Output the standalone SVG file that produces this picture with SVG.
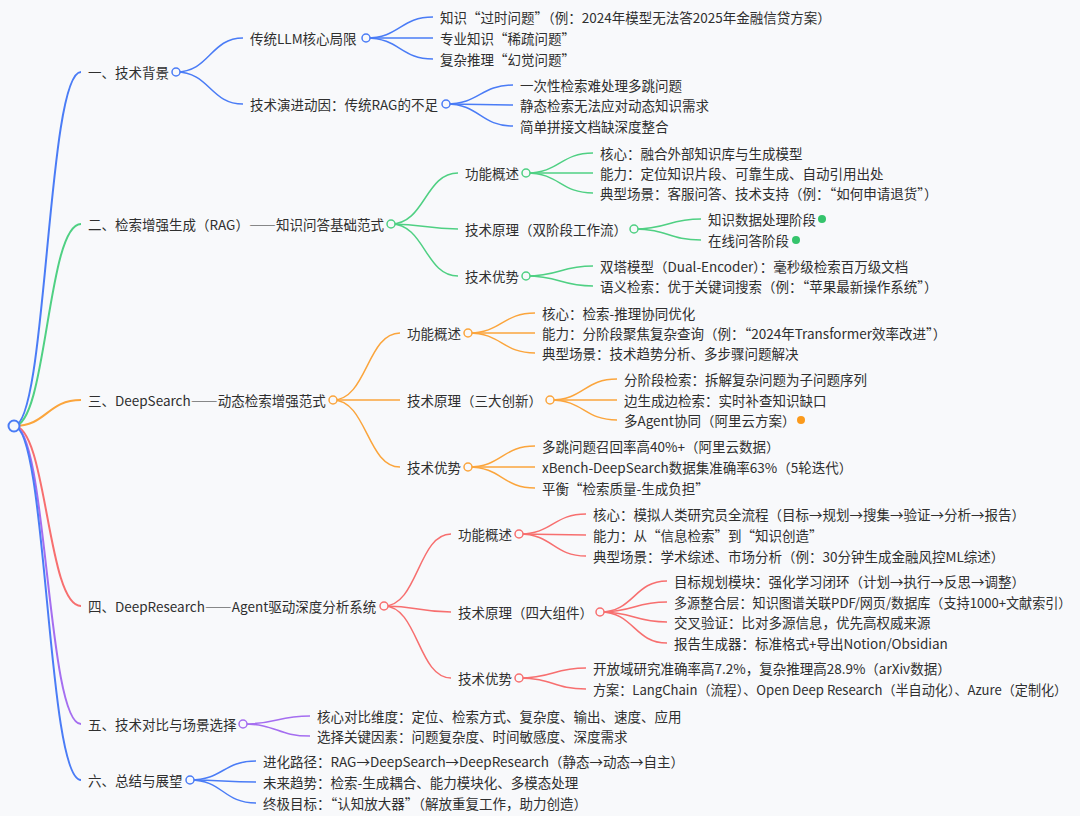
<svg xmlns="http://www.w3.org/2000/svg" width="1080" height="816" viewBox="0 0 1080 816" xml:lang="zh-CN" lang="zh-CN">
<style>
text{font-family:"Noto Sans CJK SC","Noto Sans",sans-serif;fill:#2f2f2f;dominant-baseline:central;font-size:13.5px}
text.tight{font-size:13.1px}
.lk{fill:none;stroke-width:1.5}
.root{stroke-width:2}
.b{stroke:#4a7cf6}.g{stroke:#4fd083}.o{stroke:#fba53c}.r{stroke:#f76f6f}.p{stroke:#a56ef0}
circle.c{fill:#f8f9fb;stroke-width:1.5}
.fg{fill:#35c46c}.fo{fill:#fb9a1c}
</style>
<rect width="1080" height="816" fill="#f8f9fb"/>
<g id="connectors">
<path class="lk root b" d="M14,426 C47,426 47,72 81,72"/>
<path class="lk root g" d="M14,426 C47,426 47,224 81,224"/>
<path class="lk root o" d="M14,426 C47,426 47,400 81,400"/>
<path class="lk root r" d="M14,426 C47,426 47,606 81,606"/>
<path class="lk root p" d="M14,426 C47,426 47,724 81,724"/>
<path class="lk root b" d="M14,426 C47,426 47,780 81,780"/>
<path class="lk b" d="M176,72 C210,72 210,38 243,38"/>
<path class="lk b" d="M176,72 C210,72 210,104 243,104"/>
<path class="lk b" d="M366,38 C400,38 400,17 433,17"/>
<path class="lk b" d="M366,38 C400,38 400,38 433,38"/>
<path class="lk b" d="M366,38 C400,38 400,59 433,59"/>
<path class="lk b" d="M446,104 C480,104 480,85 513,85"/>
<path class="lk b" d="M446,104 C480,104 480,105 513,105"/>
<path class="lk b" d="M446,104 C480,104 480,126 513,126"/>
<path class="lk g" d="M391,224 C425,224 425,173 458,173"/>
<path class="lk g" d="M391,224 C425,224 425,229 458,229"/>
<path class="lk g" d="M391,224 C425,224 425,276 458,276"/>
<path class="lk g" d="M526,173 C560,173 560,153 593,153"/>
<path class="lk g" d="M526,173 C560,173 560,173 593,173"/>
<path class="lk g" d="M526,173 C560,173 560,193 593,193"/>
<path class="lk g" d="M634,229 C668,229 668,219 701,219"/>
<path class="lk g" d="M634,229 C668,229 668,240 701,240"/>
<path class="lk g" d="M526,276 C560,276 560,266 593,266"/>
<path class="lk g" d="M526,276 C560,276 560,286 593,286"/>
<path class="lk o" d="M333,400 C367,400 367,333 400,333"/>
<path class="lk o" d="M333,400 C367,400 367,400 400,400"/>
<path class="lk o" d="M333,400 C367,400 367,467 400,467"/>
<path class="lk o" d="M468,333 C502,333 502,313 535,313"/>
<path class="lk o" d="M468,333 C502,333 502,333 535,333"/>
<path class="lk o" d="M468,333 C502,333 502,353 535,353"/>
<path class="lk o" d="M550,400 C584,400 584,379 617,379"/>
<path class="lk o" d="M550,400 C584,400 584,400 617,400"/>
<path class="lk o" d="M550,400 C584,400 584,420 617,420"/>
<path class="lk o" d="M468,467 C502,467 502,446 535,446"/>
<path class="lk o" d="M468,467 C502,467 502,467 535,467"/>
<path class="lk o" d="M468,467 C502,467 502,488 535,488"/>
<path class="lk r" d="M384,606 C418,606 418,534 451,534"/>
<path class="lk r" d="M384,606 C418,606 418,612 451,612"/>
<path class="lk r" d="M384,606 C418,606 418,678 451,678"/>
<path class="lk r" d="M519,534 C553,534 553,514 586,514"/>
<path class="lk r" d="M519,534 C553,534 553,535 586,535"/>
<path class="lk r" d="M519,534 C553,534 553,556 586,556"/>
<path class="lk r" d="M600,612 C634,612 634,581 667,581"/>
<path class="lk r" d="M600,612 C634,612 634,602 667,602"/>
<path class="lk r" d="M600,612 C634,612 634,622 667,622"/>
<path class="lk r" d="M600,612 C634,612 634,643 667,643"/>
<path class="lk r" d="M519,678 C553,678 553,668 586,668"/>
<path class="lk r" d="M519,678 C553,678 553,689 586,689"/>
<path class="lk p" d="M243,724 C277,724 277,716 310,716"/>
<path class="lk p" d="M243,724 C277,724 277,736 310,736"/>
<path class="lk b" d="M190,780 C223,780 223,761 256,761"/>
<path class="lk b" d="M190,780 C223,780 223,782 256,782"/>
<path class="lk b" d="M190,780 C223,780 223,803 256,803"/>
</g>
<g id="root"><circle class="c b" cx="14" cy="426" r="5.5" style="stroke-width:2"/></g>
<g id="n1"><text x="88" y="72">一、技术背景</text><circle class="c b" cx="176" cy="72" r="4"/></g>
<g id="n1-1"><text x="250" y="38">传统LLM核心局限</text><circle class="c b" cx="366" cy="38" r="4"/></g>
<g id="n1-1-1"><text x="440" y="17">知识“过时问题”（例：2024年模型无法答2025年金融信贷方案）</text></g>
<g id="n1-1-2"><text x="440" y="38">专业知识“稀疏问题”</text></g>
<g id="n1-1-3"><text x="440" y="59">复杂推理“幻觉问题”</text></g>
<g id="n1-2"><text x="250" y="104">技术演进动因：传统RAG的不足</text><circle class="c b" cx="446" cy="104" r="4"/></g>
<g id="n1-2-1"><text x="520" y="85">一次性检索难处理多跳问题</text></g>
<g id="n1-2-2"><text x="520" y="105">静态检索无法应对动态知识需求</text></g>
<g id="n1-2-3"><text x="520" y="126">简单拼接文档缺深度整合</text></g>
<g id="n2"><text x="88" y="224">二、检索增强生成（RAG）——知识问答基础范式</text><circle class="c g" cx="391" cy="224" r="4"/></g>
<g id="n2-1"><text x="465" y="173">功能概述</text><circle class="c g" cx="526" cy="173" r="4"/></g>
<g id="n2-1-1"><text x="600" y="153">核心：融合外部知识库与生成模型</text></g>
<g id="n2-1-2"><text x="600" y="173">能力：定位知识片段、可靠生成、自动引用出处</text></g>
<g id="n2-1-3"><text x="600" y="193">典型场景：客服问答、技术支持（例：“如何申请退货”）</text></g>
<g id="n2-2"><text x="465" y="229">技术原理（双阶段工作流）</text><circle class="c g" cx="634" cy="229" r="4"/></g>
<g id="n2-2-1"><text x="708" y="219">知识数据处理阶段</text><circle class="fg" cx="822" cy="219" r="4"/></g>
<g id="n2-2-2"><text x="708" y="240">在线问答阶段</text><circle class="fg" cx="796" cy="240" r="4"/></g>
<g id="n2-3"><text x="465" y="276">技术优势</text><circle class="c g" cx="526" cy="276" r="4"/></g>
<g id="n2-3-1"><text x="600" y="266">双塔模型（Dual-Encoder）：毫秒级检索百万级文档</text></g>
<g id="n2-3-2"><text x="600" y="286">语义检索：优于关键词搜索（例：“苹果最新操作系统”）</text></g>
<g id="n3"><text x="88" y="400">三、DeepSearch——动态检索增强范式</text><circle class="c o" cx="333" cy="400" r="4"/></g>
<g id="n3-1"><text x="407" y="333">功能概述</text><circle class="c o" cx="468" cy="333" r="4"/></g>
<g id="n3-1-1"><text x="542" y="313">核心：检索-推理协同优化</text></g>
<g id="n3-1-2"><text x="542" y="333">能力：分阶段聚焦复杂查询（例：“2024年Transformer效率改进”）</text></g>
<g id="n3-1-3"><text x="542" y="353">典型场景：技术趋势分析、多步骤问题解决</text></g>
<g id="n3-2"><text x="407" y="400">技术原理（三大创新）</text><circle class="c o" cx="550" cy="400" r="4"/></g>
<g id="n3-2-1"><text x="624" y="379">分阶段检索：拆解复杂问题为子问题序列</text></g>
<g id="n3-2-2"><text x="624" y="400">边生成边检索：实时补查知识缺口</text></g>
<g id="n3-2-3"><text x="624" y="420">多Agent协同（阿里云方案）</text><circle class="fo" cx="801" cy="420" r="4"/></g>
<g id="n3-3"><text x="407" y="467">技术优势</text><circle class="c o" cx="468" cy="467" r="4"/></g>
<g id="n3-3-1"><text x="542" y="446">多跳问题召回率高40%+（阿里云数据）</text></g>
<g id="n3-3-2"><text x="542" y="467">xBench-DeepSearch数据集准确率63%（5轮迭代）</text></g>
<g id="n3-3-3"><text x="542" y="488">平衡“检索质量-生成负担”</text></g>
<g id="n4"><text x="88" y="606">四、DeepResearch——Agent驱动深度分析系统</text><circle class="c r" cx="384" cy="606" r="4"/></g>
<g id="n4-1"><text x="458" y="534">功能概述</text><circle class="c r" cx="519" cy="534" r="4"/></g>
<g id="n4-1-1"><text x="593" y="514">核心：模拟人类研究员全流程（目标→规划→搜集→验证→分析→报告）</text></g>
<g id="n4-1-2"><text x="593" y="535">能力：从“信息检索”到“知识创造”</text></g>
<g id="n4-1-3"><text x="593" y="556">典型场景：学术综述、市场分析（例：30分钟生成金融风控ML综述）</text></g>
<g id="n4-2"><text x="458" y="612">技术原理（四大组件）</text><circle class="c r" cx="600" cy="612" r="4"/></g>
<g id="n4-2-1"><text x="674" y="581">目标规划模块：强化学习闭环（计划→执行→反思→调整）</text></g>
<g id="n4-2-2"><text class="tight" x="674" y="602">多源整合层：知识图谱关联PDF/网页/数据库（支持1000+文献索引）</text></g>
<g id="n4-2-3"><text x="674" y="622">交叉验证：比对多源信息，优先高权威来源</text></g>
<g id="n4-2-4"><text x="674" y="643">报告生成器：标准格式+导出Notion/Obsidian</text></g>
<g id="n4-3"><text x="458" y="678">技术优势</text><circle class="c r" cx="519" cy="678" r="4"/></g>
<g id="n4-3-1"><text x="593" y="668">开放域研究准确率高7.2%，复杂推理高28.9%（arXiv数据）</text></g>
<g id="n4-3-2"><text class="tight" x="593" y="689">方案：LangChain（流程）、Open Deep Research（半自动化）、Azure（定制化）</text></g>
<g id="n5"><text x="88" y="724">五、技术对比与场景选择</text><circle class="c p" cx="243" cy="724" r="4"/></g>
<g id="n5-1"><text x="317" y="716">核心对比维度：定位、检索方式、复杂度、输出、速度、应用</text></g>
<g id="n5-2"><text x="317" y="736">选择关键因素：问题复杂度、时间敏感度、深度需求</text></g>
<g id="n6"><text x="88" y="780">六、总结与展望</text><circle class="c b" cx="190" cy="780" r="4"/></g>
<g id="n6-1"><text x="263" y="761">进化路径：RAG→DeepSearch→DeepResearch（静态→动态→自主）</text></g>
<g id="n6-2"><text x="263" y="782">未来趋势：检索-生成耦合、能力模块化、多模态处理</text></g>
<g id="n6-3"><text x="263" y="803">终极目标：“认知放大器”（解放重复工作，助力创造）</text></g>
</svg>
